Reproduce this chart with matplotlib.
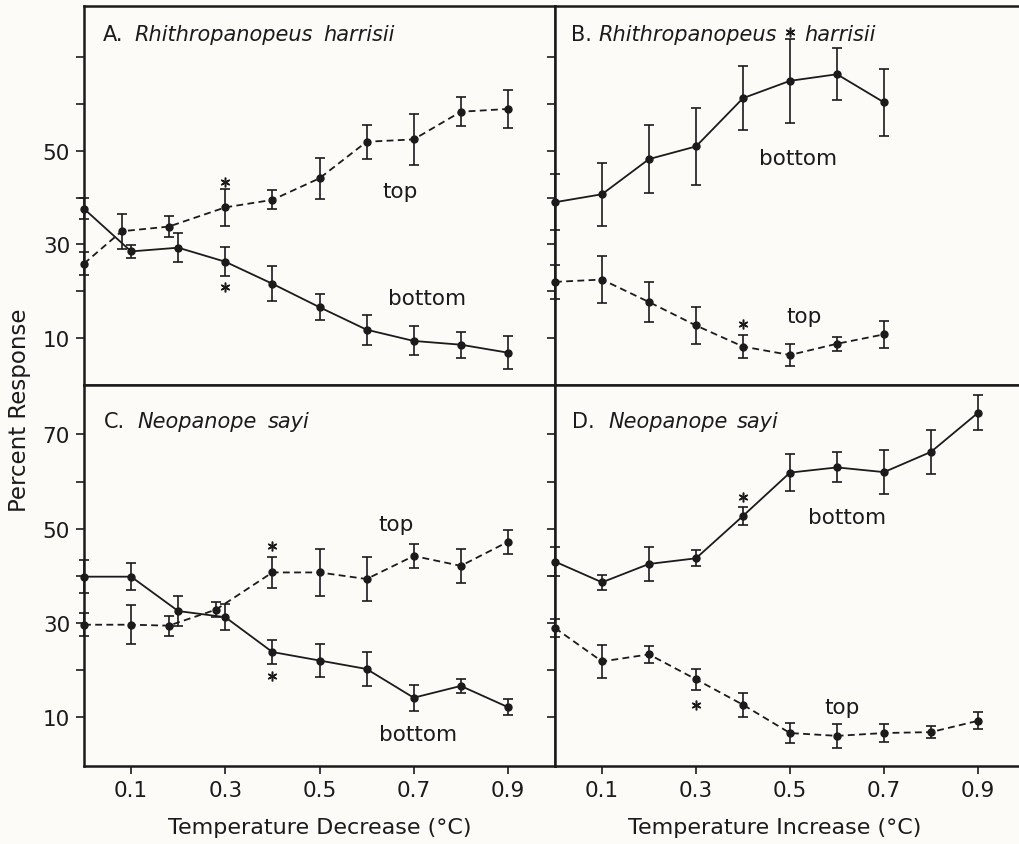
import matplotlib
matplotlib.use("Agg")
import matplotlib.pyplot as plt
import numpy as np

plt.rcParams['font.family'] = ['DejaVu Sans']
plt.rcParams['mathtext.fontset'] = 'dejavusans'

INK = '#1c1a1a'
BG = '#fdfbf8'

# ---- data ----
# A: Rhithropanopeus harrisii, temperature decrease
a_bot_x = [0, 0.1, 0.2, 0.3, 0.4, 0.5, 0.6, 0.7, 0.8, 0.9]
a_bot_y = [37.6, 28.5, 29.3, 26.3, 21.6, 16.6, 11.8, 9.4, 8.6, 6.9]
a_bot_e = [2.2, 1.4, 3.1, 3.1, 3.7, 2.8, 3.2, 3.1, 2.8, 3.5]
a_top_x = [0, 0.08, 0.18, 0.3, 0.4, 0.5, 0.6, 0.7, 0.8, 0.9]
a_top_y = [25.9, 32.8, 33.8, 37.9, 39.5, 44.1, 51.9, 52.4, 58.3, 58.9]
a_top_e = [2.5, 3.7, 2.3, 3.9, 2.0, 4.4, 3.6, 5.4, 3.1, 4.1]
a_star_x = [0.3, 0.3]
a_star_y = [43.4, 20.9]

# B: Rhithropanopeus harrisii, temperature increase
b_bot_x = [0, 0.1, 0.2, 0.3, 0.4, 0.5, 0.6, 0.7]
b_bot_y = [39.0, 40.7, 48.2, 50.9, 61.2, 64.9, 66.3, 60.3]
b_bot_e = [6.0, 6.7, 7.2, 8.2, 6.8, 8.9, 5.5, 7.1]
b_top_x = [0, 0.1, 0.2, 0.3, 0.4, 0.5, 0.6, 0.7]
b_top_y = [22.0, 22.5, 17.7, 12.7, 8.2, 6.4, 8.8, 10.8]
b_top_e = [3.7, 5.0, 4.2, 3.9, 2.4, 2.4, 1.5, 2.8]
b_star_x = [0.4, 0.5]
b_star_y = [13.1, 75.4]

# C: Neopanope sayi, temperature decrease
c_bot_x = [0, 0.1, 0.2, 0.3, 0.4, 0.5, 0.6, 0.7, 0.8, 0.9]
c_bot_y = [39.8, 39.8, 32.5, 31.2, 23.8, 22.0, 20.2, 14.1, 16.6, 12.1]
c_bot_e = [3.5, 2.9, 3.1, 2.7, 2.5, 3.5, 3.7, 2.8, 1.5, 1.7]
c_top_x = [0, 0.1, 0.18, 0.28, 0.4, 0.5, 0.6, 0.7, 0.8, 0.9]
c_top_y = [29.6, 29.6, 29.4, 32.8, 40.7, 40.7, 39.3, 44.2, 42.1, 47.2]
c_top_e = [2.5, 4.2, 2.1, 1.6, 3.2, 4.9, 4.6, 2.6, 3.6, 2.5]
c_star_x = [0.4, 0.4]
c_star_y = [46.4, 18.8]

# D: Neopanope sayi, temperature increase
d_bot_x = [0, 0.1, 0.2, 0.3, 0.4, 0.5, 0.6, 0.7, 0.8, 0.9]
d_bot_y = [43.0, 38.6, 42.5, 43.7, 52.7, 61.9, 63.0, 62.0, 66.3, 74.6]
d_bot_e = [3.0, 1.6, 3.7, 1.7, 1.9, 3.9, 3.2, 4.7, 4.7, 3.7]
d_top_x = [0, 0.1, 0.2, 0.3, 0.4, 0.5, 0.6, 0.7, 0.8, 0.9]
d_top_y = [28.9, 21.8, 23.3, 18.0, 12.6, 6.6, 6.0, 6.6, 6.8, 9.2]
d_top_e = [2.0, 3.5, 1.8, 2.2, 2.6, 2.2, 2.5, 1.9, 1.3, 1.8]
d_star_x = [0.4, 0.3]
d_star_y = [56.8, 12.6]

xticks = [0.1, 0.3, 0.5, 0.7, 0.9]
xticklabels = ['0.1', '0.3', '0.5', '0.7', '0.9']
yticks = [10, 20, 30, 40, 50, 60, 70]

panels = [
    dict(title=['A.', 'Rhithropanopeus', 'harrisii'], name_x=[0.041, 0.108, 0.508],
         bot=(a_bot_x, a_bot_y, a_bot_e), top=(a_top_x, a_top_y, a_top_e),
         stars=(a_star_x, a_star_y),
         top_lbl=(0.671, 41.3), bot_lbl=(0.728, 18.6)),
    dict(title=['B.', 'Rhithropanopeus', 'harrisii'], name_x=[0.034, 0.093, 0.535],
         bot=(b_bot_x, b_bot_y, b_bot_e), top=(b_top_x, b_top_y, b_top_e),
         stars=(b_star_x, b_star_y),
         top_lbl=(0.53, 14.7), bot_lbl=(0.518, 48.4)),
    dict(title=['C.', 'Neopanope', 'sayi'], name_x=[0.043, 0.114, 0.39],
         bot=(c_bot_x, c_bot_y, c_bot_e), top=(c_top_x, c_top_y, c_top_e),
         stars=(c_star_x, c_star_y),
         top_lbl=(0.663, 51.0), bot_lbl=(0.709, 6.5)),
    dict(title=['D.', 'Neopanope', 'sayi'], name_x=[0.037, 0.114, 0.391],
         bot=(d_bot_x, d_bot_y, d_bot_e), top=(d_top_x, d_top_y, d_top_e),
         stars=(d_star_x, d_star_y),
         top_lbl=(0.611, 12.1), bot_lbl=(0.622, 52.4)),
]

fig = plt.figure(figsize=(10.2, 8.45), dpi=100, facecolor=BG)

L, WL = 84 / 1020, 471 / 1020
R, WR = 555 / 1020, 465 / 1020
top_y0, top_h = 1 - 386 / 845, (386 - 7.3) / 845
bot_y0, bot_h = 1 - 767 / 845, (767 - 386) / 845

rects = [(L, top_y0, WL, top_h), (R, top_y0, WR, top_h),
         (L, bot_y0, WL, bot_h), (R, bot_y0, WR, bot_h)]

for i, (p, rect) in enumerate(zip(panels, rects)):
    ax = fig.add_axes(rect)
    ax.set_facecolor(BG)
    right = i in (1, 3)
    lower = i in (2, 3)

    bx, by, be = p['bot']
    tx, ty, te = p['top']
    ax.errorbar(bx, by, yerr=be, color=INK, lw=1.3, ls='-', marker='o', ms=5,
                capsize=3.5, elinewidth=1.2, capthick=1.2, clip_on=False)
    ax.errorbar(tx, ty, yerr=te, color=INK, lw=1.3, ls=(0, (3.8, 2.4)), marker='o', ms=5,
                capsize=3.5, elinewidth=1.2, capthick=1.2, clip_on=False)
    sx, sy = p['stars']
    ax.plot(sx, sy, ls='none', marker=(6, 2, 0), ms=7, mew=1.1, color=INK)

    ax.text(p['top_lbl'][0], p['top_lbl'][1], 'top', fontsize=15.5, color=INK,
            ha='center', va='center')
    ax.text(p['bot_lbl'][0], p['bot_lbl'][1], 'bottom', fontsize=15.5, color=INK,
            ha='center', va='center')

    ty_lbl = 0.906 if lower else 0.927
    nx = p['name_x']
    ax.text(nx[0], ty_lbl, p['title'][0], transform=ax.transAxes, fontsize=15,
            color=INK, ha='left', va='center')
    ax.text(nx[1], ty_lbl, p['title'][1], transform=ax.transAxes, fontsize=15,
            color=INK, ha='left', va='center', style='italic')
    ax.text(nx[2], ty_lbl, p['title'][2], transform=ax.transAxes, fontsize=15,
            color=INK, ha='left', va='center', style='italic')

    if right:
        ax.set_xlim(0, 465 / 470)
        ax.spines['right'].set_visible(False)
    else:
        ax.set_xlim(0, 1.0)
    if lower:
        ax.set_ylim(-0.4, 80.5)
    else:
        ax.set_ylim(0, 80.8)

    for s in ax.spines.values():
        s.set_color(INK)
        s.set_linewidth(1.8)

    ax.set_xticks(xticks)
    ax.set_yticks(yticks)
    if lower:
        ax.set_xticklabels(xticklabels)
    else:
        ax.set_xticklabels([])
    if right:
        ax.set_yticklabels([])
    else:
        ax.set_yticklabels(['10', '', '30', '', '50', '', '70' if lower else ''])
    ax.tick_params(direction='out', length=6, width=1.2, color=INK,
                   labelsize=15.5, labelcolor=INK, pad=4)

fig.text(20 / 1020, 1 - 410 / 845, 'Percent Response', rotation=90, fontsize=16.5,
         color=INK, ha='center', va='center')
fig.text(320 / 1020, 1 - 828 / 845, 'Temperature Decrease (°C)', fontsize=16,
         color=INK, ha='center', va='center')
fig.text(775 / 1020, 1 - 828 / 845, 'Temperature Increase (°C)', fontsize=16,
         color=INK, ha='center', va='center')

fig.savefig('out.png', dpi=100, facecolor=BG)
